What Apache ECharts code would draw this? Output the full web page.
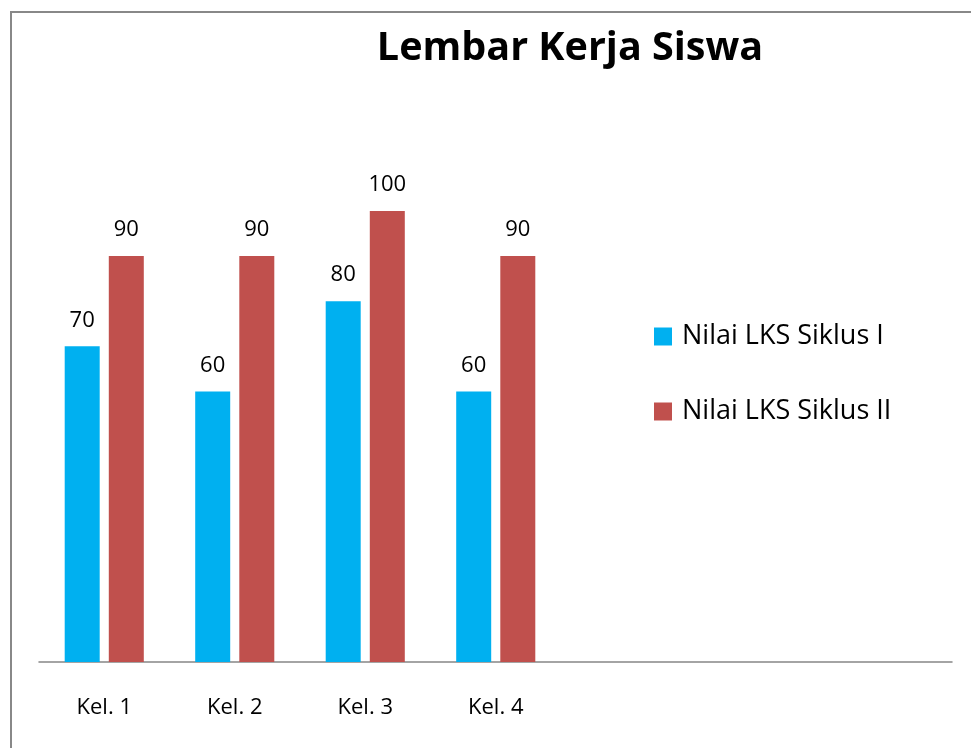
<!DOCTYPE html>
<html>
<head>
<meta charset="utf-8">
<script src="https://cdn.jsdelivr.net/npm/echarts@6/dist/echarts.min.js"></script>
<style>
  * { margin: 0; padding: 0; }
  body { background: #fff; }
  #chart { width: 971px; height: 748px; }
</style>
</head>
<body>
<div id="chart"></div>
<script>
// data
const categories = ["Kel. 1", "Kel. 2", "Kel. 3", "Kel. 4"];
const siklus1 = [70, 60, 80, 60];
const siklus2 = [90, 90, 100, 90];
const seriesNames = ["Nilai LKS Siklus I", "Nilai LKS Siklus II"];

const font = "'Open Sans', 'Noto Sans', sans-serif";

const chart = echarts.init(document.getElementById("chart"));
const labelStyle = {
  show: true,
  position: "top",
  distance: 15,
  fontFamily: font,
  fontSize: 22,
  color: "#000"
};

chart.setOption({
  animation: false,
  backgroundColor: "#fff",
  title: {
    text: "Lembar Kerja Siswa",
    left: 565,
    top: 24,
    textAlign: "center",
    textStyle: { fontFamily: font, fontSize: 39.5, fontWeight: "bold", color: "#000" }
  },
  // frame of the chart area (only left and top edges are visible)
  graphic: [{
    type: "rect",
    shape: { x: 11, y: 12, width: 2000, height: 2000 },
    style: { fill: "none", stroke: "#888", lineWidth: 2 },
    silent: true
  }],
  legend: {
    orient: "vertical",
    left: 654,
    top: 323,
    padding: 0,
    icon: "rect",
    itemWidth: 18,
    itemHeight: 18,
    itemGap: 48,
    textStyle: { fontFamily: font, fontSize: 27, color: "#000", lineHeight: 26, padding: [0, 0, 0, 5] },
    data: seriesNames
  },
  grid: [
    { left: 39, top: 211, width: 522, height: 451 },
    // wider grid only for the long baseline
    { left: 39, top: 211, right: 19, height: 451 }
  ],
  xAxis: [
    {
      type: "category",
      gridIndex: 0,
      data: categories,
      axisLine: { show: false },
      axisTick: { show: false },
      axisLabel: { fontFamily: font, fontSize: 22, color: "#000", margin: 35 }
    },
    {
      type: "category",
      gridIndex: 1,
      data: [""],
      axisLine: { show: true, lineStyle: { color: "#868686", width: 1.5 } },
      axisTick: { show: false },
      axisLabel: { show: false }
    }
  ],
  yAxis: [
    { type: "value", gridIndex: 0, min: 0, max: 100, show: false },
    { type: "value", gridIndex: 1, min: 0, max: 100, show: false }
  ],
  series: [
    {
      name: seriesNames[0],
      type: "bar",
      data: siklus1,
      barWidth: 35,
      barGap: "26%",
      itemStyle: { color: "#00B0F0" },
      label: labelStyle
    },
    {
      name: seriesNames[1],
      type: "bar",
      data: siklus2,
      barWidth: 35,
      barGap: "26%",
      itemStyle: { color: "#C0504D" },
      label: labelStyle
    }
  ]
});
</script>
</body>
</html>
